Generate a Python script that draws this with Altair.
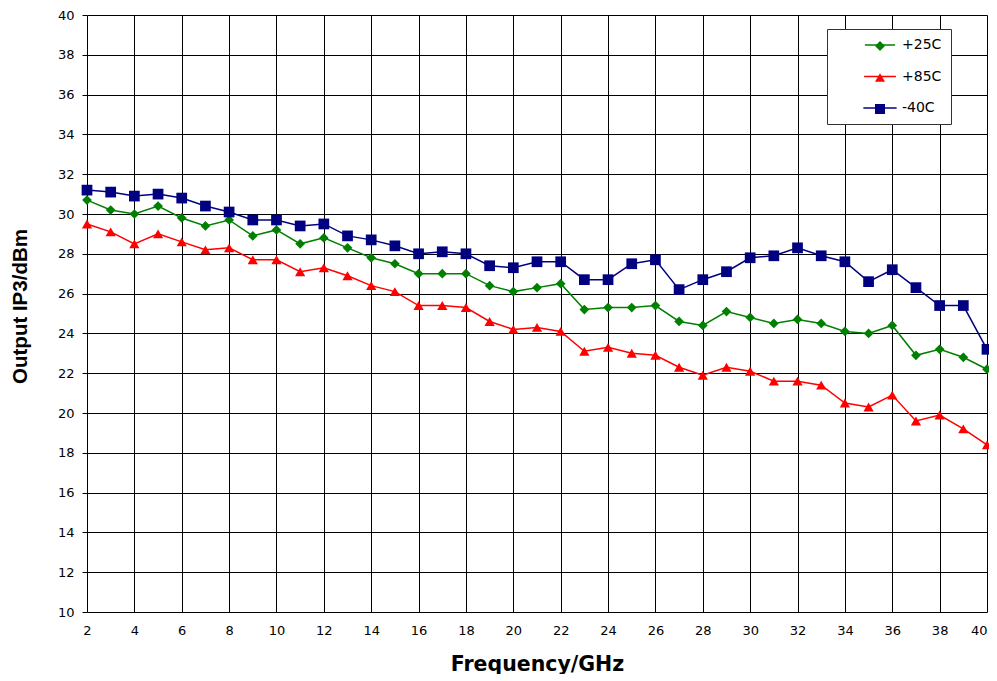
import altair as alt
import pandas as pd

freq = list(range(2, 41))
series_names = ["+25C", "+85C", "-40C"]
colors = ["#008000", "#FF0000", "#000080"]
shapes = ["diamond", "triangle-up", "square"]
sizes = [95, 115, 95]

t25 = [30.7, 30.2, 30.0, 30.4, 29.8, 29.4, 29.7, 28.9, 29.2, 28.5, 28.8, 28.3, 27.8, 27.5,
       27.0, 27.0, 27.0, 26.4, 26.1, 26.3, 26.5, 25.2, 25.3, 25.3, 25.4, 24.6, 24.4, 25.1,
       24.8, 24.5, 24.7, 24.5, 24.1, 24.0, 24.4, 22.9, 23.2, 22.8, 22.2]
t85 = [29.5, 29.1, 28.5, 29.0, 28.6, 28.2, 28.3, 27.7, 27.7, 27.1, 27.3, 26.9, 26.4, 26.1,
       25.4, 25.4, 25.3, 24.6, 24.2, 24.3, 24.1, 23.1, 23.3, 23.0, 22.9, 22.3, 21.9, 22.3,
       22.1, 21.6, 21.6, 21.4, 20.5, 20.3, 20.9, 19.6, 19.9, 19.2, 18.4]
tm40 = [31.2, 31.1, 30.9, 31.0, 30.8, 30.4, 30.1, 29.7, 29.7, 29.4, 29.5, 28.9, 28.7, 28.4,
        28.0, 28.1, 28.0, 27.4, 27.3, 27.6, 27.6, 26.7, 26.7, 27.5, 27.7, 26.2, 26.7, 27.1,
        27.8, 27.9, 28.3, 27.9, 27.6, 26.6, 27.2, 26.3, 25.4, 25.4, 23.2]

x_ticks = list(range(2, 41, 2))
y_ticks = list(range(10, 41, 2))

rows = []
for name, vals in zip(series_names, [t25, t85, tm40]):
    for f, v in zip(freq, vals):
        rows.append({"freq": f, "ip3": v, "series": name, "series_p": name})
df = pd.DataFrame(rows)

FONT = "DejaVu Sans"
PAD_LABEL = "datum.label + '" + "\u00a0" * 9 + "'"

line_legend = alt.Legend(
    title=None, orient="none", legendX=740, legendY=14,
    padding=9, rowPadding=17.5, symbolType="M-3.1,0L3.1,0", symbolSize=100,
    symbolStrokeWidth=1.5, symbolOffset=37, labelOffset=15,
    labelFontSize=14, labelFont=FONT, labelColor="#000",
    strokeColor="#333", fillColor="#fff", labelExpr=PAD_LABEL,
)
point_legend = alt.Legend(
    title=None, orient="none", legendX=740, legendY=23,
    padding=1, rowPadding=17.5, symbolSize=100, symbolOffset=45,
    labelOffset=0, labelFontSize=14, labelFont=FONT, labelExpr="''",
    symbolStrokeWidth=0,
)

x = alt.X("freq:Q", scale=alt.Scale(domain=[2, 40], nice=False),
          axis=alt.Axis(values=x_ticks, title="Frequency/GHz", grid=True, gridColor="#000",
                        gridOpacity=1, gridWidth=1, tickSize=0, labelPadding=12,
                        labelFlush=False,
                        labelAlign=alt.ExprRef("datum.value === 40 ? 'right' : 'center'"),
                        labelFontSize=13, labelFont=FONT, labelColor="#000",
                        titleFont=FONT, titleFontSize=20.5, titleFontWeight="bold",
                        titleColor="#000", titleX=450, titleY=52, titleBaseline="middle",
                        domain=False))
y = alt.Y("ip3:Q", scale=alt.Scale(domain=[10, 40], nice=False),
          axis=alt.Axis(values=y_ticks, title="Output IP3/dBm", grid=True, gridColor="#000",
                        gridOpacity=1, gridWidth=1, tickSize=5, tickColor="#000",
                        labelPadding=8, labelFlush=False,
                        labelFontSize=13, labelFont=FONT, labelColor="#000",
                        titleFont="Liberation Sans", titleFontSize=20.5, titleFontWeight="bold",
                        titleColor="#000", titleX=-67, titleY=291, titleAngle=-90,
                        titleAlign="center", titleBaseline="middle", domain=False))

base = alt.Chart(df)
lines = base.mark_line(strokeWidth=1.5).encode(
    x=x, y=y,
    color=alt.Color("series:N", scale=alt.Scale(domain=series_names, range=colors),
                    legend=line_legend),
)
points = base.mark_point(filled=True, opacity=1).encode(
    x=x, y=y,
    fill=alt.Fill("series_p:N", scale=alt.Scale(range=colors), legend=point_legend),
    shape=alt.Shape("series_p:N", scale=alt.Scale(range=shapes), legend=point_legend),
    size=alt.Size("series:N", scale=alt.Scale(domain=series_names, range=sizes), legend=None),
)

chart = (lines + points).properties(
    width=900, height=597,
    autosize=alt.AutoSizeParams(type="none"),
    padding={"left": 79, "top": 7, "right": 2, "bottom": 62},
).configure_view(stroke="#000", strokeWidth=1).configure(background="#fff")

chart.save("out.html", embed_options={"renderer": "svg", "actions": False})
